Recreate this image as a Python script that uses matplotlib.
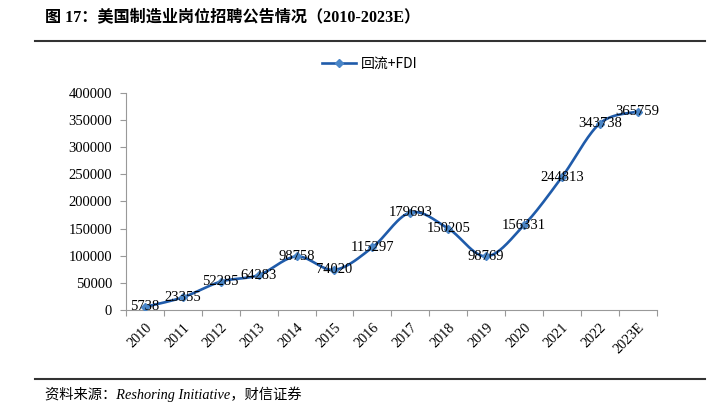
import numpy as np
import matplotlib
matplotlib.use("Agg")
import matplotlib.pyplot as plt
from matplotlib.lines import Line2D

years = ["2010", "2011", "2012", "2013", "2014", "2015", "2016", "2017",
         "2018", "2019", "2020", "2021", "2022", "2023E"]
values = [5738, 23355, 52285, 64283, 98758, 74020, 115297, 179693,
          150205, 98769, 156331, 244813, 343738, 365759]
yticks = [0, 50000, 100000, 150000, 200000, 250000, 300000, 350000, 400000]
series_name = "回流+FDI"
title = "图 17：美国制造业岗位招聘公告情况（2010-2023E）"
source = "资料来源：Reshoring Initiative，财信证券"

BLUE = "#1F5BAA"
SERIF = ["Liberation Serif", "Noto Sans CJK SC"]


def smooth(x, y, n=30, t=0.5):
    # Catmull-Rom style smoothing similar to spreadsheet smoothed lines
    x = np.asarray(x, float)
    y = np.asarray(y, float)
    px = np.concatenate([[x[0]], x, [x[-1]]])
    py = np.concatenate([[y[0]], y, [y[-1]]])
    xs, ys = [], []
    for i in range(1, len(px) - 2):
        p0 = np.array([px[i - 1], py[i - 1]])
        p1 = np.array([px[i], py[i]])
        p2 = np.array([px[i + 1], py[i + 1]])
        p3 = np.array([px[i + 2], py[i + 2]])
        c1 = p1 + (p2 - p0) * t / 3
        c2 = p2 - (p3 - p1) * t / 3
        s = np.linspace(0, 1, n)[:, None]
        b = ((1 - s) ** 3) * p1 + 3 * ((1 - s) ** 2) * s * c1 + 3 * (1 - s) * s ** 2 * c2 + s ** 3 * p2
        xs.append(b[:, 0])
        ys.append(b[:, 1])
    return np.concatenate(xs), np.concatenate(ys)


fig = plt.figure(figsize=(7.21, 4.09), dpi=100)
ax = fig.add_axes([0.1748, 0.2421, 0.9107 - 0.1748, 0.7726 - 0.2421])

x = np.arange(len(years))
sx, sy = smooth(x, values, t=0.5)
ax.plot(sx, sy, color=BLUE, lw=1.9, solid_capstyle="round", zorder=2)
ax.plot(x, values, linestyle="none", marker="D", ms=4.5, color="#4A86C8",
        markeredgecolor="#4A86C8", zorder=3)

for xi, v in zip(x, values):
    ax.text(xi, v, str(v), ha="center", va="center", fontsize=10.5,
            family=SERIF, color="black", zorder=4)

ax.set_xlim(-0.5, len(years) - 0.5)
ax.set_ylim(0, 400000)
ax.set_yticks(yticks)
ax.set_yticklabels([str(t) for t in yticks], family=SERIF, fontsize=10.5)
ax.set_xticks(x)
ax.set_xticklabels(years, rotation=45, ha="right", rotation_mode="anchor",
                   family=SERIF, fontsize=10.3)
ax.set_xticks(np.arange(-0.5, len(years), 1.0), minor=True)
ax.tick_params(axis="x", which="major", length=0, pad=8)
ax.tick_params(axis="x", which="minor", length=4, color="#999999", width=0.8)
ax.tick_params(axis="y", length=4, color="#999999", width=0.8, pad=6)

for s in ["top", "right"]:
    ax.spines[s].set_visible(False)
for s in ["left", "bottom"]:
    ax.spines[s].set_color("#999999")
    ax.spines[s].set_linewidth(0.8)

# legend
handle = Line2D([], [], color=BLUE, lw=1.9, marker="D", ms=4.5,
                markerfacecolor="#4A86C8", markeredgecolor="#4A86C8")
fig.legend([handle], [series_name], loc="center", bbox_to_anchor=(370 / 721, 1 - 64 / 409),
           frameon=False, prop={"family": ["Noto Sans CJK SC"], "size": 10},
           handlelength=2.4, handletextpad=0.4)

# title and rules
fig.text(45 / 721, 1 - 17 / 409, title, fontsize=11.6, fontweight="bold",
         family=SERIF, ha="left", va="center")
fig.add_artist(Line2D([35 / 721, 705 / 721], [1 - 41 / 409, 1 - 41 / 409],
                      color="#333333", lw=1.5))
fig.add_artist(Line2D([35 / 721, 705 / 721], [1 - 379 / 409, 1 - 379 / 409],
                      color="#333333", lw=1.5))
fig.text(45 / 721, 1 - 394 / 409, source, fontsize=10.3, style="italic",
         family=SERIF, ha="left", va="center")

fig.savefig("out.png", dpi=100)
